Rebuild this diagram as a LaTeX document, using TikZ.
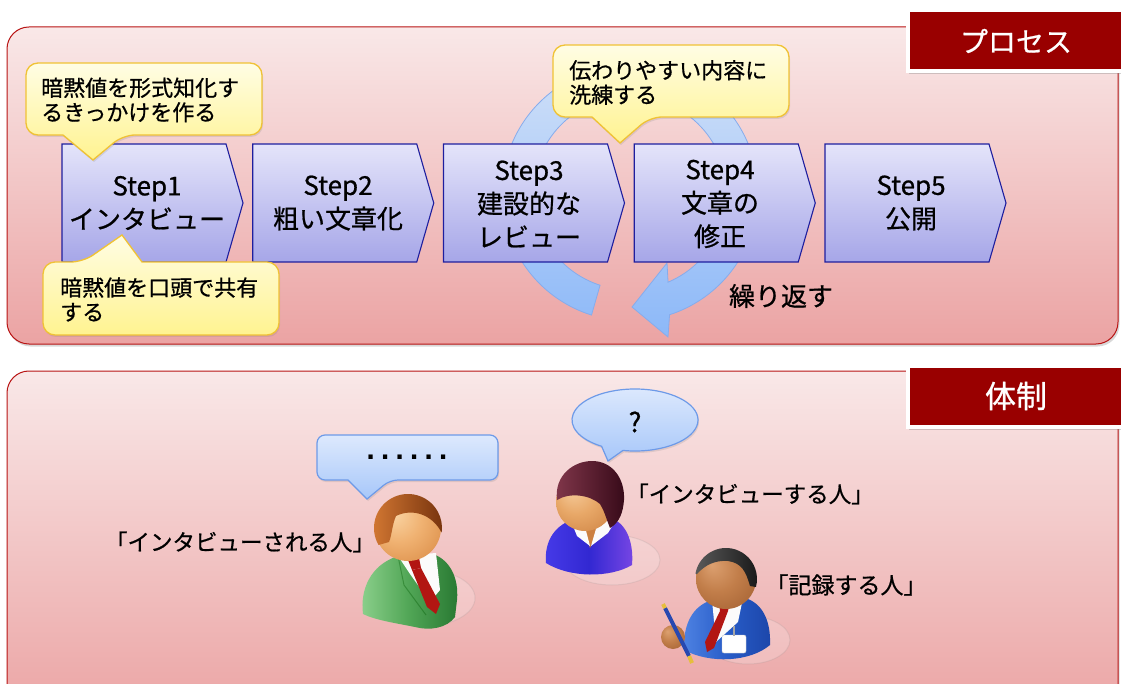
\documentclass[tikz,border=0pt]{standalone}
\usepackage{fontspec}
\setmainfont{Noto Sans CJK JP}[FakeBold=0.7]
\newfontfamily\dotfont{DejaVu Sans}
\usetikzlibrary{shadows}

% palette
\definecolor{panelTop}{HTML}{F9E8E8}
\definecolor{panelBot}{HTML}{EBA3A3}
\definecolor{panelEdge}{HTML}{B81414}
\definecolor{tagRed}{HTML}{990000}
\definecolor{stepTop}{HTML}{E4E4FA}
\definecolor{stepBot}{HTML}{A6A6E8}
\definecolor{stepEdge}{HTML}{1E1E9E}
\definecolor{noteTop}{HTML}{FFFDE4}
\definecolor{noteBot}{HTML}{FFF390}
\definecolor{noteEdge}{HTML}{F0C235}
\definecolor{bubTop}{HTML}{DDE9FD}
\definecolor{bubBot}{HTML}{A7C7F9}
\definecolor{bubEdge}{HTML}{6D9AE8}
\definecolor{ringTop}{HTML}{D3E2F8}
\definecolor{ringBot}{HTML}{8CB8F8}
\definecolor{ringEdge}{HTML}{86ACEC}
\definecolor{penBlue}{HTML}{2848B0}
\definecolor{penGold}{HTML}{E6BE3C}
% skin tones
\definecolor{skGa}{HTML}{FAD6A6}
\definecolor{skGb}{HTML}{F0B272}
\definecolor{skGc}{HTML}{D88842}
\definecolor{skGd}{HTML}{B4622A}
\definecolor{skWa}{HTML}{F6CC9C}
\definecolor{skWb}{HTML}{E8A868}
\definecolor{skWc}{HTML}{CC8040}
\definecolor{skWd}{HTML}{A05C26}
\definecolor{skBa}{HTML}{DCA070}
\definecolor{skBb}{HTML}{C27E4A}
\definecolor{skBc}{HTML}{A05E30}
\definecolor{skBd}{HTML}{7A4020}
\pgfdeclareradialshading{skinG}{\pgfpoint{-12bp}{12bp}}{color(0bp)=(skGa); color(18bp)=(skGb); color(40bp)=(skGc); color(50bp)=(skGd)}
\pgfdeclareradialshading{skinW}{\pgfpoint{-12bp}{12bp}}{color(0bp)=(skWa); color(18bp)=(skWb); color(40bp)=(skWc); color(50bp)=(skWd)}
\pgfdeclareradialshading{skinB}{\pgfpoint{-12bp}{12bp}}{color(0bp)=(skBa); color(18bp)=(skBb); color(40bp)=(skBc); color(50bp)=(skBd)}

\begin{document}
\begin{tikzpicture}[x=1pt,y=1pt,
  panel/.style={draw=panelEdge, line width=1pt, top color=panelTop, bottom color=panelBot,
    rounded corners=22pt, drop shadow={opacity=0.3, shadow xshift=1.5pt, shadow yshift=-2.5pt}},
  tagbox/.style={fill=tagRed, draw=white, line width=4pt,
    drop shadow={opacity=0.35, shadow xshift=1pt, shadow yshift=-3pt}},
  tagtext/.style={text=white, font=\fontsize{28}{32}\selectfont, inner sep=0pt},
  stepbox/.style={draw=stepEdge, line width=1.1pt, top color=stepTop, bottom color=stepBot},
  steptext/.style={font=\fontsize{26}{33.5}\selectfont, align=center, inner sep=0pt},
  note/.style={draw=noteEdge, line width=1.3pt, top color=noteTop, bottom color=noteBot,
    rounded corners=12pt, drop shadow={opacity=0.2, shadow xshift=1pt, shadow yshift=-2pt}},
  notetext/.style={font=\fontsize{22}{24.5}\selectfont, align=left, inner sep=0pt, anchor=west},
  bubble/.style={draw=bubEdge, line width=1.2pt, top color=bubTop, bottom color=bubBot,
    drop shadow={opacity=0.2, shadow xshift=1pt, shadow yshift=-2pt}},
  ring/.style={draw=ringEdge, line width=0.8pt, top color=ringTop, bottom color=ringBot},
  who/.style={font=\fontsize{22.5}{26}\selectfont, inner sep=0pt},
  floorshadow/.style={fill=white, fill opacity=0.2, draw=gray, draw opacity=0.15, line width=1pt},
  tie/.style={fill={rgb,255:red,178;green,22;blue,18}},
  shirt/.style={fill=white!97!gray},
]
\useasboundingbox (0,0) rectangle (1121,-684);
\fill[white] (0,0) rectangle (1121,-684);
\begin{scope}
\clip (0,0) rectangle (1121,-684);

% ---------- panels and their tags ----------
\path[panel] (7,-27) rectangle (1118,-344);
\path[panel] (7,-371) rectangle (1118,-720);
\path[tagbox] (908,-10) rectangle (1130,-71);
\node[tagtext] (tag1) at (1016,-41) {プロセス};
\path[tagbox] (908,-366) rectangle (1130,-427);
\node[tagtext, font=\fontsize{31}{34}\selectfont] (tag2) at (1016,-396) {体制};

% ---------- repeat loop behind steps 3 and 4 ----------
\path[ring] ([shift={(630,-193)}]252.5:128) arc[start angle=252.5, end angle=-72, radius=128]
  -- (668,-337) -- (632,-307) -- (667,-263)
  -- ([shift={(630,-193)}]-66.9:97) arc[start angle=-66.9, end angle=252, radius=97] -- cycle;
\node[font=\fontsize{26}{28}\selectfont, inner sep=0pt] (rep) at (781,-296) {繰り返す};

% ---------- process steps ----------
\foreach \k in {0,...,4}
  \path[stepbox, xshift=\k*190.75pt] (62,-144) -- (226,-144) -- (243,-203) -- (226,-262) -- (62,-262) -- cycle;
\node[steptext] (s1) at (147,-203) {Step1\\インタビュー};
\node[steptext] (s2) at (338,-203) {Step2\\粗い文章化};
\node[steptext] (s3) at (529,-204) {Step3\\建設的な\\レビュー};
\node[steptext] (s4) at (720,-204) {Step4\\文章の\\修正};
\node[steptext] (s5) at (911,-203) {Step5\\公開};

% ---------- yellow notes ----------
\path[note] (26,-63) -- (262,-63) -- (262,-135) -- (123,-135) [sharp corners] -- (93,-160)
  -- (63,-135) [rounded corners=12pt] -- (26,-135) -- cycle;
\node[notetext] (n1) at (41,-100) {暗黙値を形式知化す\\るきっかけを作る};
\path[note] (43,-262) -- (83,-262) [sharp corners] -- (122,-235) -- (142,-262)
  [rounded corners=12pt] -- (279,-262) -- (279,-335) -- (43,-335) -- cycle;
\node[notetext] (n2) at (60,-299.5) {暗黙値を口頭で共有\\する};
\path[note] (553,-45) -- (789,-45) -- (789,-117) -- (650,-117) [sharp corners] -- (620,-143)
  -- (592,-117) [rounded corners=12pt] -- (553,-117) -- cycle;
\node[notetext] (n3) at (569,-82.5) {伝わりやすい内容に\\洗練する};

% ---------- speech bubbles ----------
\path[bubble, rounded corners=8pt] (317,-435) -- (498,-435) -- (498,-480) -- (390,-480)
  [sharp corners] -- (367,-499) -- (348,-480) [rounded corners=8pt] -- (317,-480) -- cycle;
\node[font=\dotfont\bfseries\fontsize{24}{24}\selectfont, inner sep=0pt] (dots) at (407,-457)
  {.\kern5.4pt.\kern5.4pt.\kern5.4pt.\kern5.4pt.\kern5.4pt.};
\path[bubble] ([shift={(635,-420)}]259:63 and 31)
  arc[start angle=259, end angle=598, x radius=63, y radius=31] -- (608,-461) -- cycle;
\node[font=\fontsize{27}{28}\selectfont, inner sep=0pt] (q) at (635,-422) {?};

% ---------- interviewee (green suit) ----------
\path[floorshadow] (425,-598) ellipse [x radius=50, y radius=28];
\path[left color={rgb,255:red,140;green,208;blue,140}, right color={rgb,255:red,40;green,120;blue,50},
      middle color={rgb,255:red,80;green,165;blue,85}]
  (363,-614) .. controls (360,-590) and (370,-565) .. (398,-556) -- (433,-554)
  .. controls (450,-560) and (459,-578) .. (457,-600) -- (455,-617)
  .. controls (447,-628) and (430,-631) .. (415,-627) .. controls (395,-623) and (375,-620) .. (363,-614) -- cycle;
\draw[green!35!black, opacity=0.35, line width=1pt] (398,-556) -- (404,-585) -- (426,-615);
\path[shirt] (398,-556) -- (436,-553) -- (440,-590) -- (430,-602) -- (410,-574) -- cycle;
\path[tie] (408,-560) -- (419,-558) -- (421,-568) -- (412,-570) -- cycle;
\path[tie] (412,-570) -- (421,-568) -- (440,-604) -- (436,-614) -- (427,-607) -- cycle;
\shade[shading=skinG] (408,-528) circle (33);
\path[left color={rgb,255:red,214;green,122;blue,52}, right color={rgb,255:red,120;green,52;blue,14}]
  ([shift={(408,-528)}]210:34) arc[start angle=210, end angle=-8, radius=34]
  .. controls (432,-514) and (412,-508) .. (396,-516)
  .. controls (392,-525) and (392,-535) .. (389,-542) -- cycle;
\node[who] (who1) at (240,-542) {「インタビューされる人」};

% ---------- interviewer (purple) ----------
\path[floorshadow] (612,-560) ellipse [x radius=48, y radius=25];
\path[left color={rgb,255:red,70;green,58;blue,232}, right color={rgb,255:red,120;green,70;blue,228},
      middle color={rgb,255:red,50;green,40;blue,210}]
  (546,-563) .. controls (544,-540) and (556,-524) .. (575,-519) -- (610,-518)
  .. controls (625,-522) and (634,-540) .. (632,-565)
  .. controls (610,-578) and (570,-578) .. (546,-563) -- cycle;
\fill[skWc] (581,-521) -- (601,-521) -- (590,-548) -- cycle;
\path[shirt] (571,-521) -- (584,-523) -- (590,-546) -- (577,-536) -- cycle;
\path[shirt] (598,-522) -- (616,-520) -- (608,-533) -- (591,-546) -- cycle;
\shade[shading=skinW] (585,-502) circle (29);
\path[left color={rgb,255:red,130;green,55;blue,75}, right color={rgb,255:red,55;green,10;blue,25}]
  (557,-500) .. controls (554,-475) and (574,-461) .. (592,-461)
  .. controls (612,-461) and (625,-478) .. (624,-500)
  .. controls (623,-512) and (620,-522) .. (610,-528)
  .. controls (606,-518) and (604,-510) .. (600,-504)
  .. controls (590,-495) and (570,-492) .. (557,-500) -- cycle;
\node[who] (who2) at (750,-494) {「インタビューする人」};

% ---------- note taker (blue) ----------
\path[floorshadow] (748,-640) ellipse [x radius=42, y radius=24];
\path[left color={rgb,255:red,78;green,130;blue,226}, right color={rgb,255:red,28;green,70;blue,170},
      middle color={rgb,255:red,40;green,92;blue,200}]
  (684,-650) .. controls (683,-625) and (692,-606) .. (712,-600) -- (745,-598)
  .. controls (762,-603) and (771,-620) .. (770,-645)
  .. controls (750,-662) and (710,-664) .. (684,-650) -- cycle;
\path[shirt] (712,-600) -- (743,-598) -- (738,-622) -- (716,-642) -- cycle;
\path[tie] (719,-602) -- (730,-602) -- (728,-611) -- (720,-611) -- cycle;
\path[tie] (720,-611) -- (728,-611) -- (714,-648) -- (707,-652) -- (705,-642) -- cycle;
\fill[white, rounded corners=2pt, draw=gray!40] (722,-635) rectangle (746,-653);
\draw[gray!70, line width=1.5pt] (734,-626) -- (734,-636);
\shade[shading=skinB] (673,-637) circle (12);
\draw[line width=4pt, color=penBlue] (665,-608) -- (689,-656);
\draw[line width=4pt, color=penGold] (689,-656) -- (692,-663);
\draw[line width=4pt, color=penGold] (663,-604) -- (665,-608);
\shade[shading=skinB] (726,-579) circle (30);
\path[left color=black!65, right color=black!90]
  ([shift={(726,-579)}]170:31) arc[start angle=170, end angle=-15, radius=31]
  -- (750,-586) .. controls (746,-572) and (742,-563) .. (728,-561)
  .. controls (715,-560) and (705,-565) .. (697,-574) -- cycle;
\node[who, font=\fontsize{23}{26}\selectfont] (who3) at (846,-585) {「記録する人」};
\end{scope}
\end{tikzpicture}
\end{document}
